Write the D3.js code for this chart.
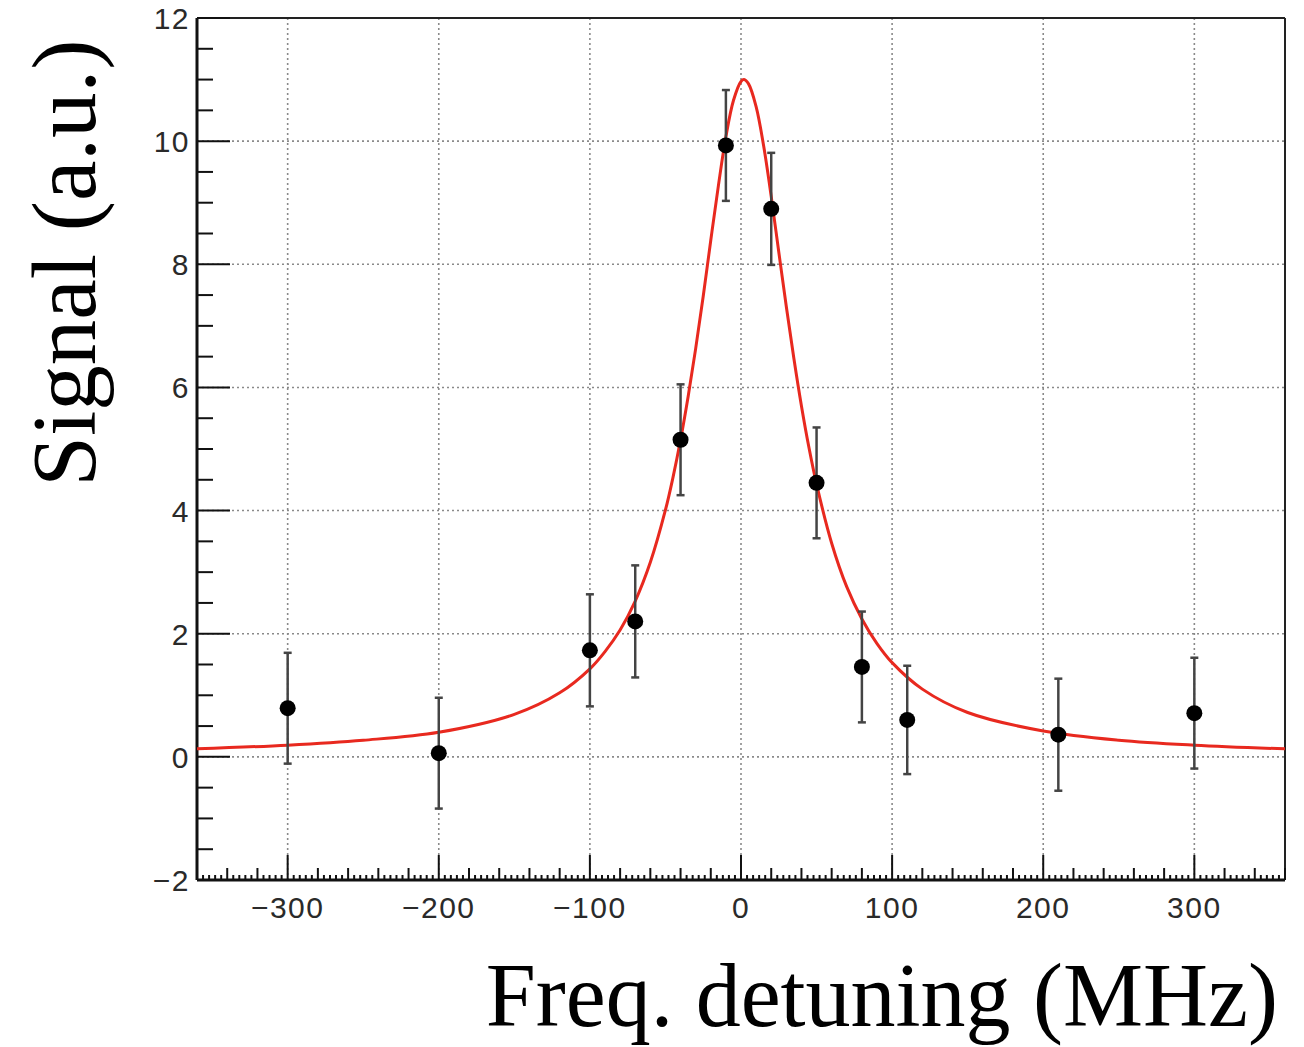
<!DOCTYPE html>
<html><head><meta charset="utf-8">
<script src="https://cdn.jsdelivr.net/npm/d3@7"></script>
<style>body{margin:0;background:#fff}</style>
</head><body>
<svg id="c" width="1304" height="1047"></svg>
<script>
// Data points (detuning MHz, signal a.u., error)
const detuning = [-300, -200, -100, -70, -40, -10, 20, 50, 80, 110, 210, 300];
const signal   = [0.79, 0.06, 1.73, 2.20, 5.15, 9.93, 8.90, 4.45, 1.46, 0.60, 0.36, 0.71];
const errors   = [0.90, 0.90, 0.91, 0.91, 0.90, 0.90, 0.91, 0.90, 0.90, 0.88, 0.91, 0.90];
// Fit curve samples
const fitX = [-360,-300,-250,-200,-150,-120,-100,-90,-80,-70,-60,-50,-45,-40,-35,-30,-25,-20,-15,-10,-5,0,2,5,10,15,20,25,30,35,40,45,50,60,70,80,90,100,120,150,200,250,300,360];
const fitY = [0.13,0.19,0.27,0.40,0.69,1.04,1.43,1.71,2.06,2.53,3.16,4.01,4.54,5.15,5.85,6.63,7.48,8.39,9.27,10.07,10.66,10.97,11.0,10.93,10.56,9.92,9.10,8.20,7.31,6.47,5.70,5.02,4.43,3.47,2.76,2.24,1.84,1.53,1.10,0.72,0.42,0.27,0.19,0.13];
const xMajor = [-300,-200,-100,0,100,200,300];
const yMajor = [-2,0,2,4,6,8,10,12];

const svg = d3.select("#c");
const L = 197, R = 1285, T = 18, B = 880;
const x = d3.scaleLinear().domain([-360, 360]).range([L, R]);
const y = d3.scaleLinear().domain([-2, 12]).range([B, T]);

// grid
const grid = svg.append("g").attr("stroke", "#8a8a8a").attr("stroke-width", 1.6).attr("stroke-dasharray", "2,3");
xMajor.forEach(v => grid.append("line").attr("x1", x(v)).attr("x2", x(v)).attr("y1", T).attr("y2", B));
yMajor.filter(v => v > -2 && v < 12).forEach(v => grid.append("line").attr("x1", L).attr("x2", R).attr("y1", y(v)).attr("y2", y(v)));

// frame top/right
svg.append("line").attr("x1", L).attr("x2", R).attr("y1", T).attr("y2", T).attr("stroke", "#222").attr("stroke-width", 2);
svg.append("line").attr("x1", R).attr("x2", R).attr("y1", T).attr("y2", B).attr("stroke", "#222").attr("stroke-width", 2);

// x axis ticks
const tk = svg.append("g").attr("stroke", "#111").attr("stroke-width", 2);
for (let v = -360; v <= 360; v += 4) {
  let len = 5;
  if (v % 100 === 0) len = 25; else if (v % 20 === 0) len = 12;
  tk.append("line").attr("x1", x(v)).attr("x2", x(v)).attr("y1", B).attr("y2", B - len);
}
// y axis ticks
for (let v = -2; v <= 12.001; v += 0.5) {
  const len = (Math.abs(v % 2) < 1e-6) ? 33 : 16;
  tk.append("line").attr("x1", L).attr("x2", L + len).attr("y1", y(v)).attr("y2", y(v));
}
// axes lines
svg.append("line").attr("x1", L).attr("x2", R).attr("y1", B).attr("y2", B).attr("stroke", "#111").attr("stroke-width", 3);
svg.append("line").attr("x1", L).attr("x2", L).attr("y1", T).attr("y2", B).attr("stroke", "#111").attr("stroke-width", 3);

const fmt = v => (v < 0 ? "\u2212" + Math.abs(v) : String(v));
// tick labels
svg.append("g").selectAll("text").data(xMajor).join("text")
  .attr("x", d => x(d)).attr("y", 918).attr("text-anchor", "middle")
  .attr("font-family", "Liberation Sans, Arial, sans-serif").attr("font-size", 30).attr("letter-spacing", 1.5).attr("fill", "#2a2a2a")
  .text(fmt);
svg.append("g").selectAll("text").data(yMajor).join("text")
  .attr("x", 190).attr("y", d => y(d) + 11).attr("text-anchor", "end")
  .attr("font-family", "Liberation Sans, Arial, sans-serif").attr("font-size", 30).attr("letter-spacing", 1.5).attr("fill", "#2a2a2a")
  .text(fmt);

// fit curve
const line = d3.line().x((d, i) => x(fitX[i])).y(d => y(d)).curve(d3.curveCatmullRom.alpha(0.5));
svg.append("path").attr("d", line(fitY)).attr("fill", "none").attr("stroke", "#e8291f").attr("stroke-width", 3);

// error bars
const pts = detuning.map((d, i) => ({x: d, y: signal[i], e: errors[i]}));
const eb = svg.append("g").attr("stroke", "#444").attr("stroke-width", 2.5);
pts.forEach(p => {
  eb.append("line").attr("x1", x(p.x)).attr("x2", x(p.x)).attr("y1", y(p.y + p.e)).attr("y2", y(p.y - p.e));
  eb.append("line").attr("x1", x(p.x) - 4).attr("x2", x(p.x) + 4).attr("y1", y(p.y + p.e)).attr("y2", y(p.y + p.e));
  eb.append("line").attr("x1", x(p.x) - 4).attr("x2", x(p.x) + 4).attr("y1", y(p.y - p.e)).attr("y2", y(p.y - p.e));
});
svg.append("g").selectAll("circle").data(pts).join("circle")
  .attr("cx", d => x(d.x)).attr("cy", d => y(d.y)).attr("r", 8).attr("fill", "#000");

// axis titles
svg.append("text").attr("transform", "translate(95,263) rotate(-90)").attr("text-anchor", "middle")
  .attr("font-family", "Liberation Serif, Times New Roman, serif").attr("font-size", 91).attr("fill", "#000")
  .text("Signal (a.u.)");
svg.append("text").attr("x", 1278).attr("y", 1026).attr("text-anchor", "end")
  .attr("font-family", "Liberation Serif, Times New Roman, serif").attr("font-size", 90).attr("fill", "#000")
  .text("Freq. detuning (MHz)");
</script>
</body></html>
